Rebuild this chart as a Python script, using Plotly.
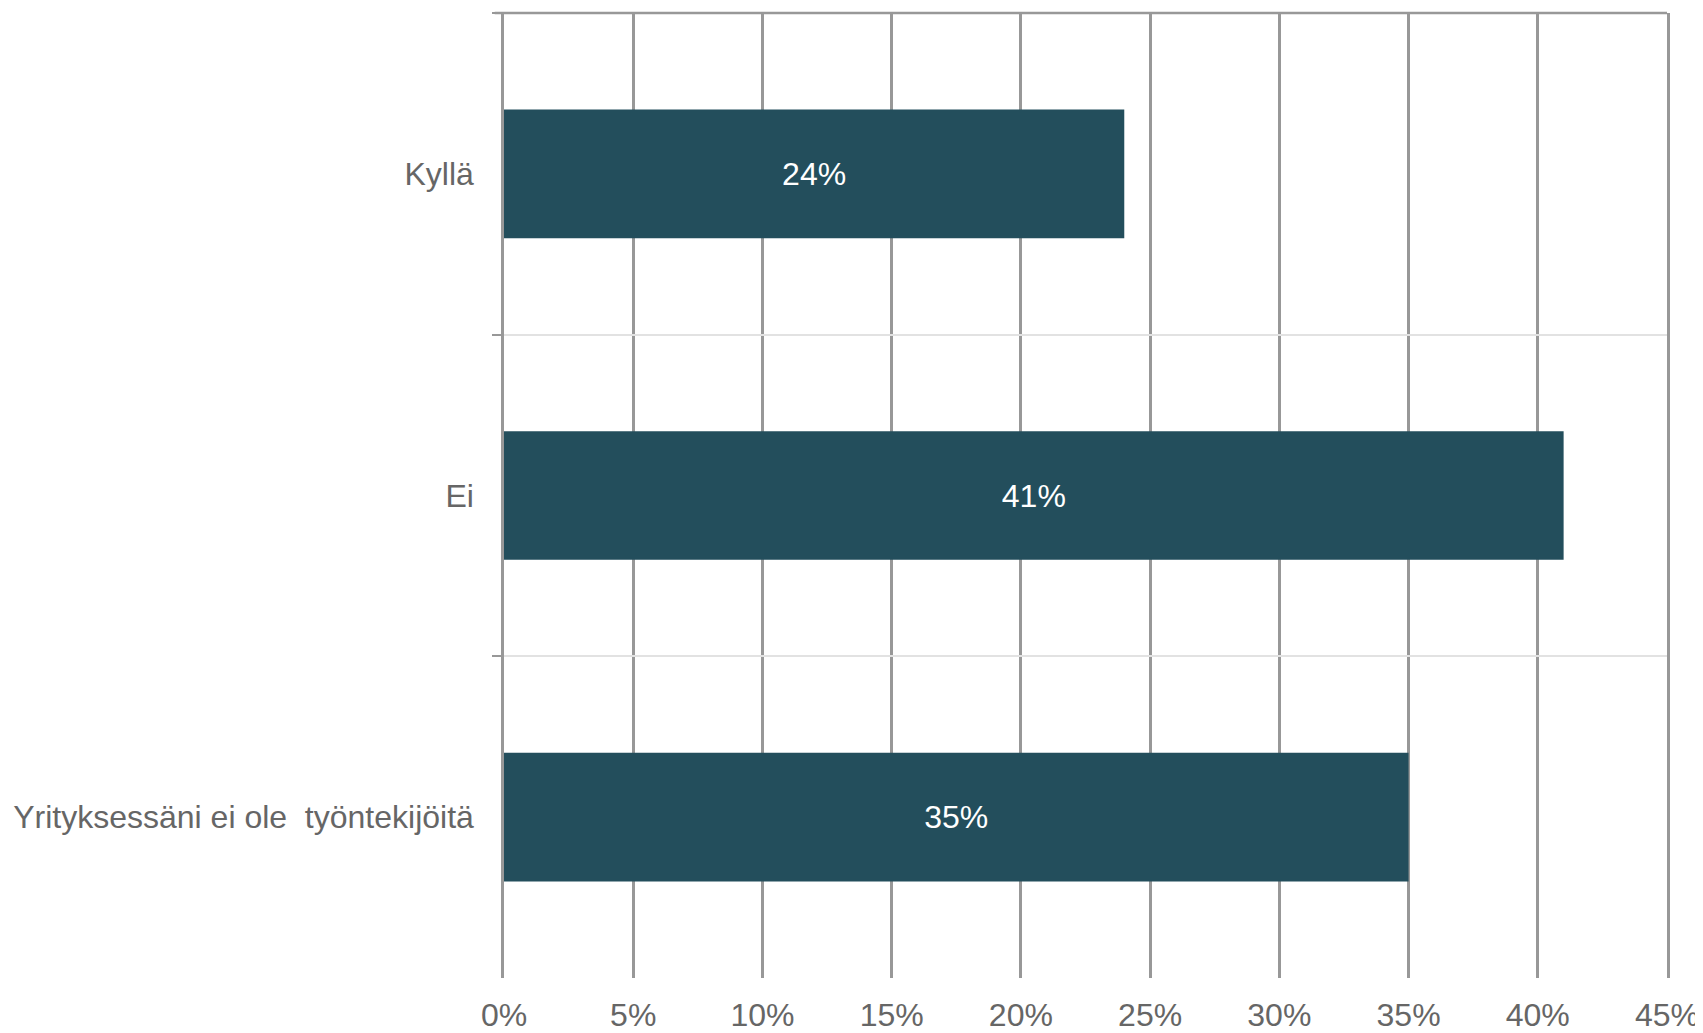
import plotly.graph_objects as go

categories = ["Kyllä", "Ei", "Yrityksessäni ei ole\u00a0 työntekijöitä"]
values = [0.24, 0.41, 0.35]
value_labels = ["24%", "41%", "35%"]
x_tickvals = [0, 0.05, 0.10, 0.15, 0.20, 0.25, 0.30, 0.35, 0.40, 0.45]
x_ticktext = ["0%", "5%", "10%", "15%", "20%", "25%", "30%", "35%", "40%", "45%"]

FONT = "Liberation Sans, Arial, sans-serif"
TEXT = "#666666"
DARK_GRID = "#989898"
LIGHT_GRID = "#e2e2e2"
BAR = "#234E5C"

fig = go.Figure(
    go.Bar(
        x=values,
        y=categories,
        orientation="h",
        width=0.4,
        marker=dict(color=BAR, line=dict(width=0)),
        text=value_labels,
        textposition="inside",
        insidetextanchor="middle",
        textangle=0,
        constraintext="none",
        textfont=dict(family=FONT, size=32, color="white"),
        hoverinfo="skip",
    )
)

fig.update_layout(
    width=1703,
    height=1033,
    margin=dict(l=493, r=44, t=5, b=63),
    paper_bgcolor="white",
    plot_bgcolor="white",
    showlegend=False,
    bargap=0.6,
    font=dict(family=FONT, size=32, color=TEXT),
)

fig.update_xaxes(
    range=[0, 0.45],
    tickvals=x_tickvals,
    ticktext=x_ticktext,
    showgrid=True,
    gridcolor=DARK_GRID,
    gridwidth=2.5,
    zeroline=False,
    showline=False,
    ticks="",
    ticklabelstandoff=15,
    tickfont=dict(family=FONT, size=32, color=TEXT),
)

fig.update_yaxes(
    type="category",
    categoryorder="array",
    categoryarray=categories,
    autorange="reversed",
    tickson="boundaries",
    showgrid=True,
    gridcolor=LIGHT_GRID,
    gridwidth=2,
    showline=True,
    mirror=True,
    linecolor=DARK_GRID,
    linewidth=2.5,
    ticks="outside",
    ticklen=9,
    tickwidth=2,
    tickcolor=DARK_GRID,
    ticklabelstandoff=21,
    tickfont=dict(family=FONT, size=32, color=TEXT),
)

fig.add_shape(
    type="line", xref="paper", yref="paper",
    x0=-0.008, x1=1, y0=1, y1=1,
    line=dict(color=DARK_GRID, width=2.5),
    layer="above",
)

fig.write_html("out.html")
